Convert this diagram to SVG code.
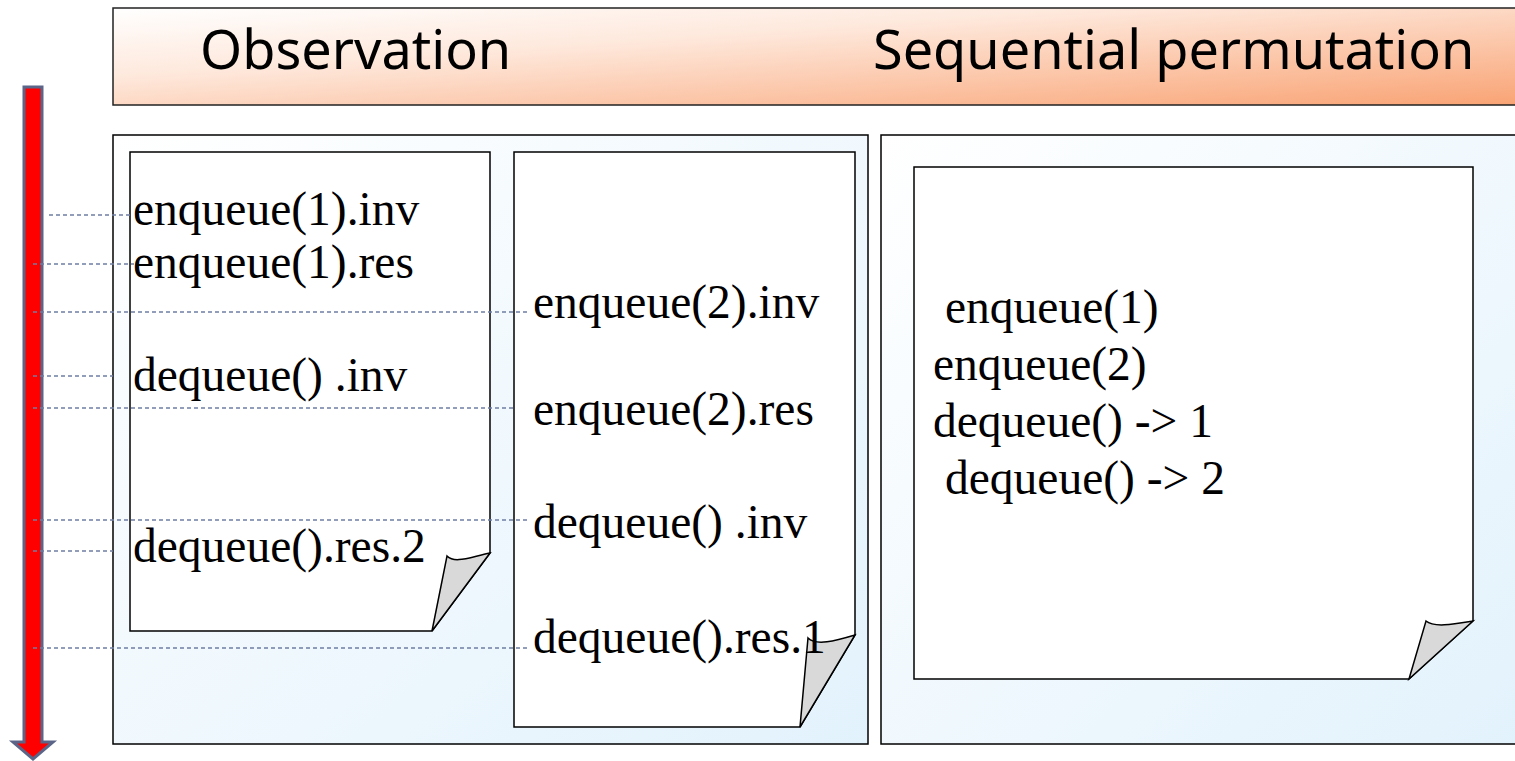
<svg xmlns="http://www.w3.org/2000/svg" width="1515" height="761" viewBox="0 0 1515 761">
<defs>
<linearGradient id="hdr" x1="0" y1="0" x2="1" y2="1">
<stop offset="0" stop-color="#FFFFFF"/>
<stop offset="0.35" stop-color="#FEE9DD"/>
<stop offset="1" stop-color="#F9A374"/>
</linearGradient>
<linearGradient id="pnl" x1="0" y1="0" x2="1" y2="1">
<stop offset="0" stop-color="#FFFFFF"/>
<stop offset="1" stop-color="#E2F2FC"/>
</linearGradient>
<style>
.frame{stroke:#000;stroke-width:1.5}
.doc{fill:#fff;stroke:#000;stroke-width:1.5;stroke-linejoin:miter}
.curl{fill:#D9D9D9;stroke:#000;stroke-width:1.5;stroke-linejoin:miter}
.t{font-family:"Liberation Serif","Times New Roman",serif;font-size:47.5px;fill:#000}
.h{font-family:"Noto Sans","Open Sans",sans-serif;font-size:54px;fill:#000}
.dash{stroke:#6F7DA3;stroke-width:1.4;stroke-dasharray:4 3;fill:none}
</style>
</defs>

<g id="header">
<rect x="113" y="8" width="1410" height="97" fill="url(#hdr)" stroke="#222" stroke-width="1.5"/>
<text class="h" x="200" y="69">Observation</text>
<text class="h" x="873" y="69">Sequential permutation</text>
</g>

<g id="observation-panel">
<rect class="frame" x="113" y="135" width="755" height="609" fill="url(#pnl)"/>
</g>
<g id="permutation-panel">
<rect class="frame" x="881" y="135" width="640" height="609" fill="url(#pnl)"/>
</g>

<g id="time-arrow">
<path d="M24,87 H42 V742 H53 L33,759 L13,742 H24 Z" fill="#FF0000" stroke="#5B6588" stroke-width="3" stroke-linejoin="miter"/>
</g>

<g id="doc1">
<path class="doc" d="M130,152 H490 V553 L432,631 H130 Z"/>
<path class="curl" d="M432,631 L447,556 C455,564 470,557 490,553 Z"/>
<text class="t" x="133" y="225">enqueue(1).inv</text>
<text class="t" x="133" y="278">enqueue(1).res</text>
<text class="t" x="133" y="391">dequeue() .inv</text>
<text class="t" x="133" y="562">dequeue().res.2</text>
</g>

<g id="doc2">
<path class="doc" d="M514,152 H855 V635 L800,727 H514 Z"/>
<path class="curl" d="M800,727 L808,638 C816,646 835,641 855,635 Z"/>
<text class="t" x="533" y="318">enqueue(2).inv</text>
<text class="t" x="533" y="425">enqueue(2).res</text>
<text class="t" x="533" y="538">dequeue() .inv</text>
<text class="t" x="533" y="653">dequeue().res.1</text>
</g>

<g id="doc3">
<path class="doc" d="M914,167 H1473 V621 L1409,679 H914 Z"/>
<path class="curl" d="M1409,679 L1426,621 C1434,628 1455,624 1473,621 Z"/>
<text class="t" x="945" y="323">enqueue(1)</text>
<text class="t" x="933" y="380">enqueue(2)</text>
<text class="t" x="933" y="437">dequeue() -&gt; 1</text>
<text class="t" x="945" y="494">dequeue() -&gt; 2</text>
</g>

<g id="connectors">
<line class="dash" x1="49" y1="215" x2="130" y2="215"/>
<line class="dash" x1="33" y1="264" x2="134" y2="264"/>
<line class="dash" x1="33" y1="312" x2="529" y2="312"/>
<line class="dash" x1="33" y1="376" x2="113" y2="376"/>
<line class="dash" x1="33" y1="408" x2="514" y2="408"/>
<line class="dash" x1="33" y1="520" x2="529" y2="520"/>
<line class="dash" x1="33" y1="551" x2="113" y2="551"/>
<line class="dash" x1="33" y1="648" x2="529" y2="648"/>
</g>
</svg>
